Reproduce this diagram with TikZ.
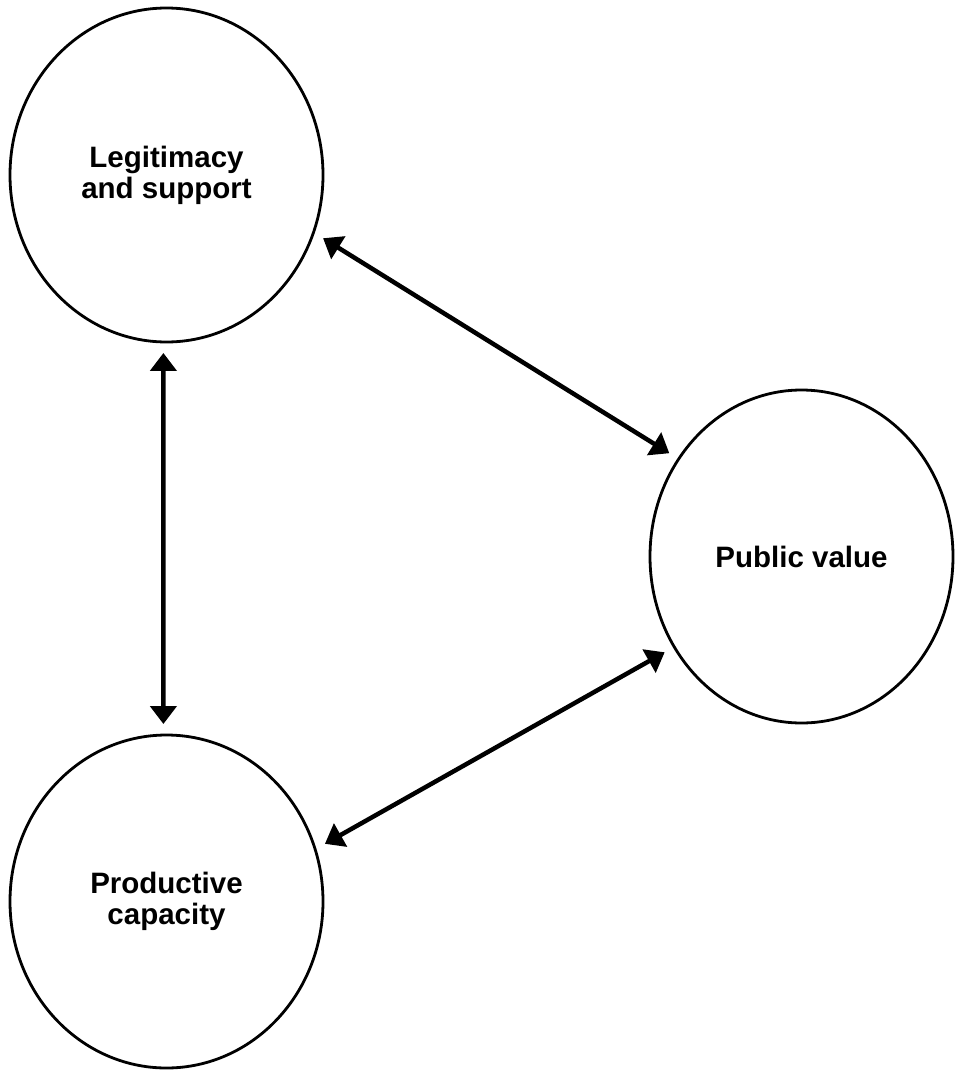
\documentclass[tikz,border=0pt]{standalone}
\usepackage{fontspec}
\setmainfont{Liberation Sans}
\usetikzlibrary{shapes.geometric,arrows.meta}
\begin{document}
\begin{tikzpicture}[x=1pt,y=-1pt,
  circ/.style={ellipse,draw,line width=2.8pt,outer sep=11pt,align=center,
    font=\fontsize{29.5}{31}\selectfont\bfseries,inner sep=0pt},
  link/.style={line width=4.5pt,
    {Triangle[length=18pt,width=26pt]}-{Triangle[length=18pt,width=26pt]}}]
\useasboundingbox (0,0) rectangle (955,1070);
\node[circ,minimum width=313pt,minimum height=334pt] (L) at (166.5,175) {Legitimacy\\and support};
\node[circ,minimum width=303pt,minimum height=333pt] (P) at (801.5,556.5) {Public value};
\node[circ,minimum width=313pt,minimum height=333pt] (C) at (166.5,901.5) {Productive\\capacity};
\draw[link] (L.-22.7) -- (P.142.25);
\draw[link] (P.215.26) -- (C.20.8);
\draw[link] (L.269) -- (C.91);
\end{tikzpicture}
\end{document}
